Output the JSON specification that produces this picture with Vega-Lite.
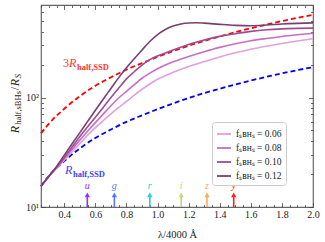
{
  "$schema": "https://vega.github.io/schema/vega-lite/v6.json",
  "width": 272,
  "height": 202,
  "autosize": {"type": "none"},
  "padding": {"left": 41, "top": 5, "right": 12, "bottom": 35},
  "background": "white",
  "config": {
    "view": {"stroke": "#666", "strokeWidth": 1.2},
    "font": "Liberation Serif",
    "axis": {
      "labelFont": "Liberation Serif",
      "labelFontSize": 10,
      "labelColor": "#222",
      "tickColor": "#444",
      "tickWidth": 0.8,
      "domain": false,
      "grid": false,
      "titleFont": "Liberation Serif",
      "titleFontWeight": "normal",
      "titleFontSize": 10.5,
      "titleColor": "#222"
    },
    "legend": {
      "orient": "none",
      "legendX": 171,
      "legendY": 117,
      "fillColor": "white",
      "strokeColor": "#cccccc",
      "cornerRadius": 3,
      "padding": 4,
      "symbolType": "stroke",
      "symbolSize": 196,
      "symbolStrokeWidth": 1.8,
      "labelFont": "Liberation Serif",
      "labelFontSize": 9.5,
      "labelColor": "#222",
      "rowPadding": 1,
      "title": null
    }
  },
  "datasets": {
    "ssd": [
      {"s": "3R", "x": 0.25, "y": 47}, {"s": "3R", "x": 0.3, "y": 57.5}, {"s": "3R", "x": 0.4, "y": 79},
      {"s": "3R", "x": 0.5, "y": 103}, {"s": "3R", "x": 0.6, "y": 128}, {"s": "3R", "x": 0.7, "y": 153},
      {"s": "3R", "x": 0.8, "y": 180}, {"s": "3R", "x": 0.9, "y": 206}, {"s": "3R", "x": 1.0, "y": 235},
      {"s": "3R", "x": 1.1, "y": 265}, {"s": "3R", "x": 1.2, "y": 297}, {"s": "3R", "x": 1.3, "y": 329},
      {"s": "3R", "x": 1.4, "y": 361}, {"s": "3R", "x": 1.5, "y": 395}, {"s": "3R", "x": 1.6, "y": 429},
      {"s": "3R", "x": 1.7, "y": 463}, {"s": "3R", "x": 1.8, "y": 499}, {"s": "3R", "x": 1.9, "y": 534},
      {"s": "3R", "x": 2.0, "y": 568},
      {"s": "R", "x": 0.25, "y": 15.5}, {"s": "R", "x": 0.3, "y": 19.2}, {"s": "R", "x": 0.4, "y": 26.3},
      {"s": "R", "x": 0.5, "y": 34.3}, {"s": "R", "x": 0.6, "y": 42.7}, {"s": "R", "x": 0.7, "y": 51},
      {"s": "R", "x": 0.8, "y": 60}, {"s": "R", "x": 0.9, "y": 68.7}, {"s": "R", "x": 1.0, "y": 78.3},
      {"s": "R", "x": 1.1, "y": 88.3}, {"s": "R", "x": 1.2, "y": 99}, {"s": "R", "x": 1.3, "y": 109.7},
      {"s": "R", "x": 1.4, "y": 120.3}, {"s": "R", "x": 1.5, "y": 131.7}, {"s": "R", "x": 1.6, "y": 143},
      {"s": "R", "x": 1.7, "y": 154.3}, {"s": "R", "x": 1.8, "y": 166.3}, {"s": "R", "x": 1.9, "y": 178},
      {"s": "R", "x": 2.0, "y": 189.3}
    ],
    "sbh": [
      {"f": "0.06", "x": 0.25, "y": 15.5}, {"f": "0.06", "x": 0.3, "y": 19.0}, {"f": "0.06", "x": 0.35, "y": 22.6},
      {"f": "0.06", "x": 0.4, "y": 26.8}, {"f": "0.06", "x": 0.45, "y": 32}, {"f": "0.06", "x": 0.5, "y": 38},
      {"f": "0.06", "x": 0.55, "y": 45.2}, {"f": "0.06", "x": 0.6, "y": 53}, {"f": "0.06", "x": 0.65, "y": 61.5},
      {"f": "0.06", "x": 0.7, "y": 71}, {"f": "0.06", "x": 0.75, "y": 81}, {"f": "0.06", "x": 0.8, "y": 92},
      {"f": "0.06", "x": 0.85, "y": 105}, {"f": "0.06", "x": 0.9, "y": 119}, {"f": "0.06", "x": 0.95, "y": 133},
      {"f": "0.06", "x": 1.0, "y": 147}, {"f": "0.06", "x": 1.1, "y": 170}, {"f": "0.06", "x": 1.2, "y": 192},
      {"f": "0.06", "x": 1.3, "y": 213}, {"f": "0.06", "x": 1.4, "y": 235}, {"f": "0.06", "x": 1.5, "y": 256},
      {"f": "0.06", "x": 1.6, "y": 276}, {"f": "0.06", "x": 1.7, "y": 294}, {"f": "0.06", "x": 1.8, "y": 311},
      {"f": "0.06", "x": 1.9, "y": 328}, {"f": "0.06", "x": 2.0, "y": 344},
      {"f": "0.08", "x": 0.25, "y": 15.5}, {"f": "0.08", "x": 0.3, "y": 19.0}, {"f": "0.08", "x": 0.35, "y": 22.8},
      {"f": "0.08", "x": 0.4, "y": 27.6}, {"f": "0.08", "x": 0.45, "y": 33.6}, {"f": "0.08", "x": 0.5, "y": 40.8},
      {"f": "0.08", "x": 0.55, "y": 49.2}, {"f": "0.08", "x": 0.6, "y": 59}, {"f": "0.08", "x": 0.65, "y": 70.5},
      {"f": "0.08", "x": 0.7, "y": 84}, {"f": "0.08", "x": 0.75, "y": 99}, {"f": "0.08", "x": 0.8, "y": 114},
      {"f": "0.08", "x": 0.85, "y": 131}, {"f": "0.08", "x": 0.9, "y": 150}, {"f": "0.08", "x": 0.95, "y": 167},
      {"f": "0.08", "x": 1.0, "y": 183}, {"f": "0.08", "x": 1.1, "y": 212}, {"f": "0.08", "x": 1.2, "y": 237},
      {"f": "0.08", "x": 1.3, "y": 262}, {"f": "0.08", "x": 1.4, "y": 287}, {"f": "0.08", "x": 1.5, "y": 310},
      {"f": "0.08", "x": 1.6, "y": 330}, {"f": "0.08", "x": 1.7, "y": 346}, {"f": "0.08", "x": 1.8, "y": 361},
      {"f": "0.08", "x": 1.9, "y": 374}, {"f": "0.08", "x": 2.0, "y": 386},
      {"f": "0.10", "x": 0.25, "y": 15.5}, {"f": "0.10", "x": 0.3, "y": 19.0}, {"f": "0.10", "x": 0.35, "y": 23.0},
      {"f": "0.10", "x": 0.4, "y": 28.4}, {"f": "0.10", "x": 0.45, "y": 35.3}, {"f": "0.10", "x": 0.5, "y": 44},
      {"f": "0.10", "x": 0.55, "y": 54}, {"f": "0.10", "x": 0.6, "y": 66}, {"f": "0.10", "x": 0.65, "y": 81},
      {"f": "0.10", "x": 0.7, "y": 100}, {"f": "0.10", "x": 0.75, "y": 122}, {"f": "0.10", "x": 0.8, "y": 148},
      {"f": "0.10", "x": 0.85, "y": 172}, {"f": "0.10", "x": 0.9, "y": 198}, {"f": "0.10", "x": 0.95, "y": 222},
      {"f": "0.10", "x": 1.0, "y": 240}, {"f": "0.10", "x": 1.1, "y": 272}, {"f": "0.10", "x": 1.2, "y": 305},
      {"f": "0.10", "x": 1.3, "y": 335}, {"f": "0.10", "x": 1.4, "y": 362}, {"f": "0.10", "x": 1.5, "y": 383},
      {"f": "0.10", "x": 1.6, "y": 402}, {"f": "0.10", "x": 1.7, "y": 416}, {"f": "0.10", "x": 1.8, "y": 424},
      {"f": "0.10", "x": 1.9, "y": 428}, {"f": "0.10", "x": 2.0, "y": 430},
      {"f": "0.12", "x": 0.25, "y": 15.5}, {"f": "0.12", "x": 0.3, "y": 19.0}, {"f": "0.12", "x": 0.35, "y": 23.5},
      {"f": "0.12", "x": 0.4, "y": 29.8}, {"f": "0.12", "x": 0.45, "y": 37.8}, {"f": "0.12", "x": 0.5, "y": 47.8},
      {"f": "0.12", "x": 0.55, "y": 60.5}, {"f": "0.12", "x": 0.6, "y": 76.5}, {"f": "0.12", "x": 0.65, "y": 96.5},
      {"f": "0.12", "x": 0.7, "y": 121}, {"f": "0.12", "x": 0.75, "y": 152}, {"f": "0.12", "x": 0.8, "y": 187},
      {"f": "0.12", "x": 0.85, "y": 226}, {"f": "0.12", "x": 0.9, "y": 272}, {"f": "0.12", "x": 0.95, "y": 325},
      {"f": "0.12", "x": 1.0, "y": 376}, {"f": "0.12", "x": 1.05, "y": 418}, {"f": "0.12", "x": 1.1, "y": 450},
      {"f": "0.12", "x": 1.15, "y": 470}, {"f": "0.12", "x": 1.2, "y": 480}, {"f": "0.12", "x": 1.25, "y": 482},
      {"f": "0.12", "x": 1.3, "y": 478}, {"f": "0.12", "x": 1.4, "y": 466}, {"f": "0.12", "x": 1.5, "y": 456},
      {"f": "0.12", "x": 1.6, "y": 452}, {"f": "0.12", "x": 1.7, "y": 459}, {"f": "0.12", "x": 1.8, "y": 469},
      {"f": "0.12", "x": 1.9, "y": 476}, {"f": "0.12", "x": 2.0, "y": 481}
    ],
    "bands": [
      {"band": "u", "x": 0.548}, {"band": "g", "x": 0.722}, {"band": "r", "x": 0.95},
      {"band": "i", "x": 1.152}, {"band": "z", "x": 1.318}, {"band": "y", "x": 1.49}
    ]
  },
  "layer": [
    {
      "data": {"name": "ssd"},
      "transform": [{"filter": "datum.s == '3R'"}],
      "mark": {"type": "line", "color": "#ff0000", "strokeWidth": 1.8, "strokeDash": [5, 3], "interpolate": "monotone"},
      "encoding": {
        "x": {
          "field": "x", "type": "quantitative",
          "scale": {"domain": [0.25, 2.0], "nice": false, "zero": false},
          "axis": {
            "orient": "bottom",
            "values": [0.25, 0.3, 0.35, 0.4, 0.45, 0.5, 0.55, 0.6, 0.65, 0.7, 0.75, 0.8, 0.85, 0.9, 0.95, 1.0, 1.05, 1.1, 1.15, 1.2, 1.25, 1.3, 1.35, 1.4, 1.45, 1.5, 1.55, 1.6, 1.65, 1.7, 1.75, 1.8, 1.85, 1.9, 1.95, 2.0],
            "labelExpr": "abs(datum.value*5-round(datum.value*5))<0.01 ? format(datum.value,'.1f') : ''",
            "tickSize": {"condition": {"test": "abs(datum.value*5-round(datum.value*5))<0.01", "value": -4.5}, "value": -2.5},
            "labelPadding": 7,
            "labelFlush": false,
            "title": "λ/4000 Å",
            "titlePadding": 10
          }
        },
        "y": {
          "field": "y", "type": "quantitative",
          "scale": {"type": "log", "domain": [10, 700], "nice": false},
          "axis": {
            "orient": "left",
            "values": [10, 20, 30, 40, 50, 60, 70, 80, 90, 100, 200, 300, 400, 500, 600],
            "labelExpr": "datum.value == 10 ? '10¹' : (datum.value == 100 ? '10²' : '')",
            "tickSize": {"condition": {"test": "datum.value == 10 || datum.value == 100", "value": -4.5}, "value": -2.5},
            "labelPadding": 7,
            "labelFlush": false,
            "title": null
          }
        }
      }
    },
    {
      "data": {"name": "ssd"},
      "transform": [{"filter": "datum.s == 'R'"}],
      "mark": {"type": "line", "color": "#0000ff", "strokeWidth": 1.8, "strokeDash": [5, 3], "interpolate": "monotone"},
      "encoding": {
        "x": {"field": "x", "type": "quantitative", "axis": null},
        "y": {"field": "y", "type": "quantitative", "axis": null}
      }
    },
    {
      "data": {"name": "sbh"},
      "mark": {"type": "line", "strokeWidth": 1.6, "interpolate": "monotone"},
      "encoding": {
        "x": {
          "field": "x", "type": "quantitative",
          "axis": {
            "orient": "top",
            "values": [0.25, 0.3, 0.35, 0.4, 0.45, 0.5, 0.55, 0.6, 0.65, 0.7, 0.75, 0.8, 0.85, 0.9, 0.95, 1.0, 1.05, 1.1, 1.15, 1.2, 1.25, 1.3, 1.35, 1.4, 1.45, 1.5, 1.55, 1.6, 1.65, 1.7, 1.75, 1.8, 1.85, 1.9, 1.95, 2.0],
            "labels": false,
            "tickSize": {"condition": {"test": "abs(datum.value*5-round(datum.value*5))<0.01", "value": -4.5}, "value": -2.5},
            "title": null
          }
        },
        "y": {
          "field": "y", "type": "quantitative",
          "axis": {
            "orient": "right",
            "values": [10, 20, 30, 40, 50, 60, 70, 80, 90, 100, 200, 300, 400, 500, 600],
            "labels": false,
            "tickSize": {"condition": {"test": "datum.value == 10 || datum.value == 100", "value": -4.5}, "value": -2.5},
            "title": null
          }
        },
        "color": {
          "field": "f", "type": "nominal",
          "scale": {"domain": ["0.06", "0.08", "0.10", "0.12"], "range": ["#dfa0df", "#c86dc4", "#9e4c94", "#7a3f72"]},
          "legend": {"labelExpr": "'fₛʙʜₛ = ' + datum.label"}
        }
      }
    },
    {
      "data": {"name": "bands"},
      "mark": {"type": "rule", "strokeWidth": 1.6},
      "encoding": {
        "x": {"field": "x", "type": "quantitative", "axis": null},
        "y": {"datum": 10, "type": "quantitative", "axis": null},
        "y2": {"datum": 12.7},
        "stroke": {"field": "band", "type": "nominal", "scale": {"domain": ["u", "g", "r", "i", "z", "y"], "range": ["#9a2bff", "#5577ff", "#20d0e0", "#c8d870", "#ffaa55", "#ff2222"]}, "legend": null}
      }
    },
    {
      "data": {"name": "bands"},
      "mark": {"type": "point", "shape": "triangle-up", "filled": true, "size": 28, "opacity": 1, "strokeWidth": 0},
      "encoding": {
        "x": {"field": "x", "type": "quantitative", "axis": null},
        "y": {"datum": 12.9, "type": "quantitative", "axis": null},
        "fill": {"field": "band", "type": "nominal", "scale": {"domain": ["u", "g", "r", "i", "z", "y"], "range": ["#9a2bff", "#5577ff", "#20d0e0", "#c8d870", "#ffaa55", "#ff2222"]}, "legend": null}
      }
    },
    {
      "data": {"name": "bands"},
      "mark": {"type": "text", "font": "Liberation Serif", "fontStyle": "italic", "fontSize": 10, "baseline": "middle", "align": "center"},
      "encoding": {
        "x": {"field": "x", "type": "quantitative", "axis": null},
        "y": {"datum": 15.6, "type": "quantitative", "axis": null},
        "text": {"field": "band"},
        "fill": {"field": "band", "type": "nominal", "legend": null}
      }
    },
    {
      "data": {"values": [{}]},
      "mark": {"type": "text", "text": "3", "font": "Liberation Serif", "fontSize": 12, "color": "#ff3535", "align": "left", "baseline": "alphabetic"},
      "encoding": {"x": {"datum": 0.3916, "axis": null}, "y": {"datum": 190, "axis": null}}
    },
    {
      "data": {"values": [{}]},
      "mark": {"type": "text", "text": "R", "font": "Liberation Serif", "fontStyle": "italic", "fontSize": 12, "color": "#ff3535", "align": "left", "baseline": "alphabetic", "dx": 6},
      "encoding": {"x": {"datum": 0.3916, "axis": null}, "y": {"datum": 190, "axis": null}}
    },
    {
      "data": {"values": [{}]},
      "mark": {"type": "text", "text": "half,SSD", "font": "Liberation Serif", "fontWeight": "bold", "fontSize": 8.5, "color": "#ff3535", "align": "left", "baseline": "alphabetic", "dx": 14, "dy": 2.5},
      "encoding": {"x": {"datum": 0.3916, "axis": null}, "y": {"datum": 190, "axis": null}}
    },
    {
      "data": {"values": [{}]},
      "mark": {"type": "text", "text": "R", "font": "Liberation Serif", "fontStyle": "italic", "fontSize": 12, "color": "#4040ff", "align": "left", "baseline": "alphabetic"},
      "encoding": {"x": {"datum": 0.404, "axis": null}, "y": {"datum": 20, "axis": null}}
    },
    {
      "data": {"values": [{}]},
      "mark": {"type": "text", "text": "half,SSD", "font": "Liberation Serif", "fontWeight": "bold", "fontSize": 8.5, "color": "#4040ff", "align": "left", "baseline": "alphabetic", "dx": 8, "dy": 2.5},
      "encoding": {"x": {"datum": 0.404, "axis": null}, "y": {"datum": 20, "axis": null}}
    },
    {
      "data": {"values": [{}]},
      "mark": {"type": "text", "text": "R", "font": "Liberation Serif", "fontStyle": "italic", "fontSize": 12, "color": "#222", "align": "left", "baseline": "alphabetic", "angle": 270},
      "encoding": {"x": {"datum": 0.108, "axis": null}, "y": {"datum": 47.1, "axis": null}}
    },
    {
      "data": {"values": [{}]},
      "mark": {"type": "text", "text": "half,sBHs", "font": "Liberation Serif", "fontSize": 8.5, "color": "#222", "align": "left", "baseline": "alphabetic", "angle": 270, "dx": 8.5, "dy": 2.5},
      "encoding": {"x": {"datum": 0.108, "axis": null}, "y": {"datum": 47.1, "axis": null}}
    },
    {
      "data": {"values": [{}]},
      "mark": {"type": "text", "text": "/", "font": "Liberation Serif", "fontSize": 12, "color": "#222", "align": "left", "baseline": "alphabetic", "angle": 270, "dx": 43},
      "encoding": {"x": {"datum": 0.108, "axis": null}, "y": {"datum": 47.1, "axis": null}}
    },
    {
      "data": {"values": [{}]},
      "mark": {"type": "text", "text": "R", "font": "Liberation Serif", "fontStyle": "italic", "fontSize": 12, "color": "#222", "align": "left", "baseline": "alphabetic", "angle": 270, "dx": 47},
      "encoding": {"x": {"datum": 0.108, "axis": null}, "y": {"datum": 47.1, "axis": null}}
    },
    {
      "data": {"values": [{}]},
      "mark": {"type": "text", "text": "S", "font": "Liberation Serif", "fontStyle": "italic", "fontSize": 8.5, "color": "#222", "align": "left", "baseline": "alphabetic", "angle": 270, "dx": 55, "dy": 2.5},
      "encoding": {"x": {"datum": 0.108, "axis": null}, "y": {"datum": 47.1, "axis": null}}
    }
  ],
  "resolve": {"axis": {"x": "independent", "y": "independent"}}
}
